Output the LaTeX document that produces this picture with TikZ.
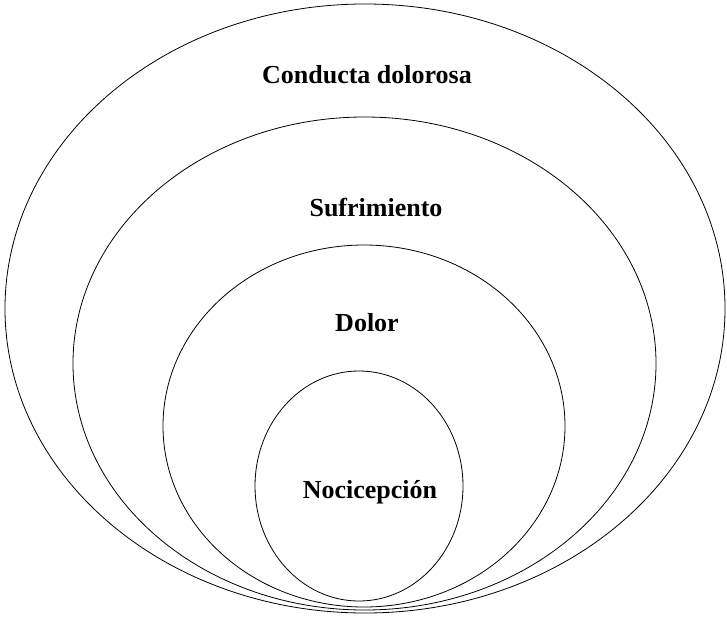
\documentclass[tikz,border=0pt]{standalone}
\usepackage{fontspec}
\setmainfont{Liberation Serif}
\tikzset{ring/.style={draw=black, line width=0.8pt},
	ringlabel/.style={anchor=center, font=\fontsize{26}{30}\selectfont\bfseries}}

\begin{document}
\begin{tikzpicture}[x=1pt, y=-1pt]
		\useasboundingbox (0, 0) rectangle (727, 618);
		\draw[ring] (365, 308.5) ellipse [x radius=360, y radius=304.5];
		\draw[ring] (364.5, 363.5) ellipse [x radius=291.5, y radius=246.5];
		\draw[ring] (364, 426) ellipse [x radius=201, y radius=181];
		\draw[ring] (359, 486) ellipse [x radius=104, y radius=115];
		\node(conducta)[ringlabel] at (367, 75) {Conducta dolorosa};
		\node(sufrimiento)[ringlabel] at (376, 208) {Sufrimiento};
		\node(dolor)[ringlabel] at (367, 323) {Dolor};
		\node(nocicepcion)[ringlabel] at (370, 492) {Nocicepción};
		\end{tikzpicture}
\end{document}
